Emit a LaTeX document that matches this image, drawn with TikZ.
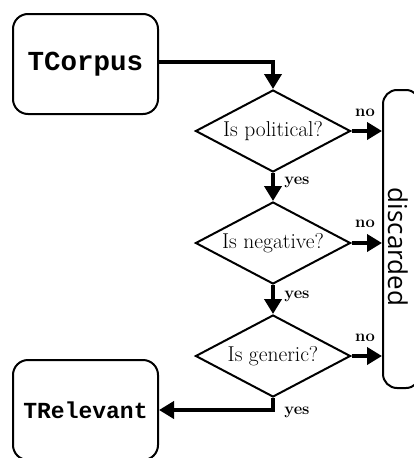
\documentclass[tikz,border=0pt]{standalone}
\usepackage{fontspec}
\setmonofont{Liberation Mono}
\newfontfamily\discfont{Open Sans}
\usetikzlibrary{shapes.geometric,arrows.meta}
\begin{document}
\begin{tikzpicture}[x=1pt,y=-1pt,
  termbox/.style={draw,line width=2pt,rounded corners=15pt,minimum width=145pt,minimum height=100pt,inner sep=0pt},
  decision/.style={draw,line width=2pt,shape=diamond,aspect=1.89,minimum width=155pt,minimum height=82pt,inner sep=0pt,font=\fontsize{21.5}{25}\selectfont},
  flow/.style={line width=4.6pt,-{Triangle[length=15pt,width=17pt]}},
  lbl/.style={font=\fontsize{16.5}{19}\selectfont\bfseries,inner sep=0pt}]
\useasboundingbox (0,0) rectangle (413,458);
\node[termbox,font=\fontsize{27.5}{32}\selectfont\ttfamily\bfseries] (tc) at (85.5,64) {TCorpus};
\node[termbox,font=\fontsize{23}{28}\selectfont\ttfamily\bfseries] (tr) at (85.5,410) {TRelevant};
\node[decision] (d1) at (273,131) {Is political?};
\node[decision] (d2) at (273,243) {Is negative?};
\node[decision] (d3) at (273,356) {Is generic?};
\node[draw,line width=2pt,rounded corners=14pt,minimum width=37pt,minimum height=298pt,inner sep=0pt] (disc) at (401.5,239) {};
\node[rotate=-90,anchor=base,font=\fontsize{26}{30}\selectfont\discfont,inner sep=0pt] (disclbl) at (388,247) {discarded};
\draw[flow] (tc.east |- 0,62) -| (d1.north);
\draw[flow] (d1.south) -- (d2.north);
\draw[flow] (d2.south) -- (d3.north);
\draw[flow] (d3.south) |- (tr.east |- 0,410);
\draw[flow] (d1.east) -- (disc.west |- d1.east);
\draw[flow] (d2.east) -- (disc.west |- d2.east);
\draw[flow] (d3.east) -- (disc.west |- d3.east);
\node[lbl] (n1) at (365,113) {no};
\node[lbl] (n2) at (365,224) {no};
\node[lbl] (n3) at (365,338) {no};
\node[lbl] (y1) at (297,182) {yes};
\node[lbl] (y2) at (297,296) {yes};
\node[lbl] (y3) at (297,412) {yes};
\end{tikzpicture}
\end{document}
